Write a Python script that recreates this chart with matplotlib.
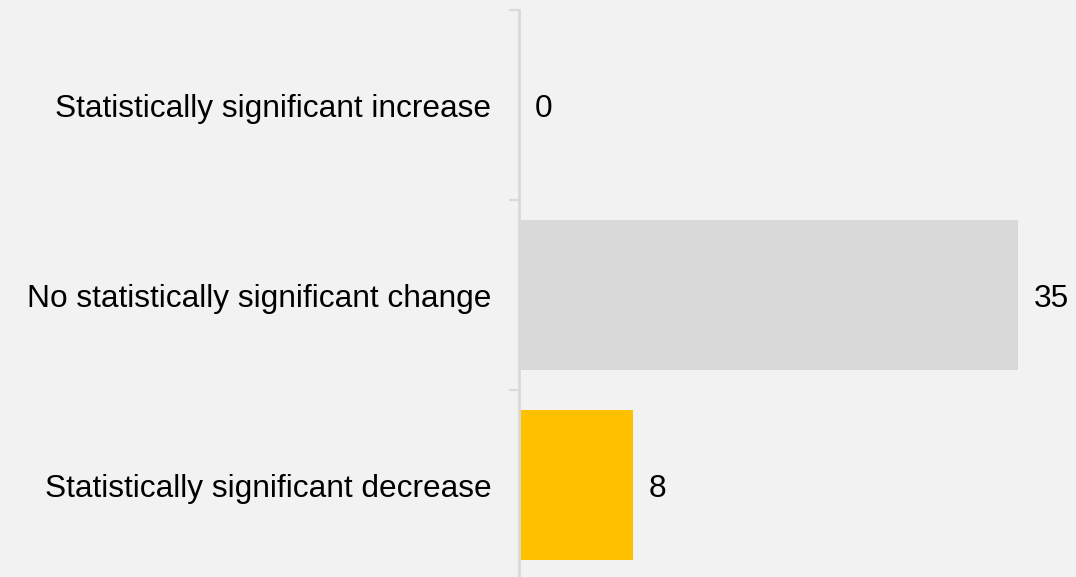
import matplotlib.pyplot as plt
from matplotlib.ticker import FixedLocator

plt.rcParams['font.family'] = ['Liberation Sans', 'DejaVu Sans']

categories = ['Statistically significant increase',
              'No statistically significant change',
              'Statistically significant decrease']
values = [0, 35, 8]
colors = ['#d9d9d9', '#d9d9d9', '#ffc000']

W, H = 1076, 577
fig = plt.figure(figsize=(W / 100, H / 100), dpi=100, facecolor='#f2f2f2')
# axes: left edge at x=519px, top at y=10px, bottom at y=580px
ax = fig.add_axes([519 / W, -3 / H, (W - 519) / W, 570 / H])
ax.set_facecolor('#f2f2f2')

pos = list(range(len(categories)))
ax.barh(pos, values, height=0.79, color=colors, left=0)
ax.set_ylim(len(categories) - 0.5, -0.5)
ax.set_xlim(0, (W - 519) / (499 / 35))

ax.set_yticks(pos)
ax.set_yticklabels(categories, fontsize=22.8, color='black')
ax.yaxis.set_minor_locator(FixedLocator([p - 0.5 for p in pos] + [pos[-1] + 0.5]))
ax.tick_params(axis='y', which='major', length=0, pad=20)
ax.tick_params(axis='y', which='minor', length=7, width=1.5, color='#d9d9d9')
ax.set_xticks([])

for s in ['top', 'right', 'bottom']:
    ax.spines[s].set_visible(False)
ax.spines['left'].set_color('#d9d9d9')
ax.spines['left'].set_linewidth(2)

for p, v in zip(pos, values):
    ax.annotate(str(v), xy=(v, p), xytext=(16, -4), textcoords='offset pixels',
                va='center', ha='left', fontsize=22.8, color='black')

fig.savefig('out.png', dpi=100, facecolor=fig.get_facecolor())
